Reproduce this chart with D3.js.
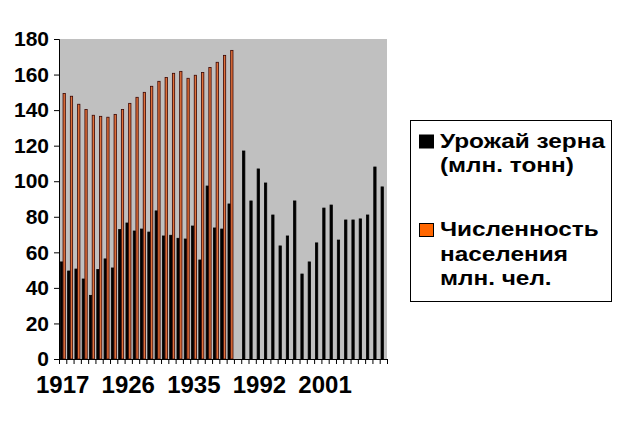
<!DOCTYPE html>
<html>
<head>
<meta charset="utf-8">
<script src="https://cdn.jsdelivr.net/npm/d3@7"></script>
<style>
  body { margin: 0; background: #fff; }
  svg text { font-family: "Liberation Sans", Arial, sans-serif; font-weight: bold; }
</style>
</head>
<body>
<svg id="chart" width="636" height="423"></svg>
<script>
// categories: 1917-1940, an empty slot, then 1990-2009
const earlyYears = d3.range(1917, 1941).map(String);
const lateYears = d3.range(1990, 2010).map(String);
const years = earlyYears.concat(["1989"], lateYears);

// grain harvest, mln t
const grainEarly = [54.6, 49.5, 50.6, 45, 35.8, 50.3, 56.3, 51.2, 72.8, 76.5, 72, 73.1,
                    71.4, 83.3, 69.2, 69.6, 67.9, 67.5, 74.8, 55.7, 97.3, 73.7, 73.1, 87.2];
const grainLate = [117, 88.9, 106.9, 99, 81, 63.6, 69.2, 88.9, 47.8, 54.6,
                   65.3, 84.9, 86.6, 66.9, 78.2, 78.2, 78.8, 81, 108, 96.8];
// population, mln
const population = [149.4, 147.8, 143.3, 140.4, 137.1, 136.5, 136, 137.6, 140.4, 143.8, 147.2, 150,
                    153.4, 156.2, 158.4, 160.7, 161.8, 157.9, 159.6, 161.2, 164, 166.9, 170.8, 173.6];

const yTicks = d3.range(0, 181, 20);
const xLabels = ["1917", "1926", "1935", "1992", "2001"];

const legendLines = [["Урожай зерна", "(млн. тонн)"], ["Численность", "населения", "млн. чел."]];

const rows = [];
earlyYears.forEach((yr, i) => {
    rows.push({year: yr, key: "grain", value: grainEarly[i]});
    rows.push({year: yr, key: "pop", value: population[i]});
});
lateYears.forEach((yr, i) => {
    rows.push({year: yr, key: "grain", value: grainLate[i]});
});

const svg = d3.select("#chart");
const plot = {left: 59, right: 387, top: 39, bottom: 359};

const x = d3.scaleBand().domain(years).range([plot.left, plot.right]).padding(0);
const x1 = d3.scaleBand().domain(["grain", "pop"]).range([0, x.bandwidth()])
    .paddingInner(0).paddingOuter(0.35);
const y = d3.scaleLinear().domain([0, 180]).range([plot.bottom, plot.top]);

svg.append("rect")
    .attr("x", plot.left).attr("y", plot.top)
    .attr("width", plot.right - plot.left).attr("height", plot.bottom - plot.top)
    .attr("fill", "#c0c0c0");

svg.append("g").selectAll("rect")
    .data(rows)
    .join("rect")
    .attr("x", d => x(d.year) + x1(d.key) + 0.4)
    .attr("y", d => y(d.value))
    .attr("width", x1.bandwidth() - 0.4)
    .attr("height", d => y(0) - y(d.value))
    .attr("fill", d => d.key == "grain" ? "#000" : "#e0703a")
    .attr("stroke", d => d.key == "grain" ? "#000" : "#3a0500")
    .attr("stroke-width", 0.8);

// y axis
const yAxis = svg.append("g")
    .attr("transform", `translate(${plot.left},0)`)
    .call(d3.axisLeft(y).tickValues(yTicks).tickSize(5).tickPadding(5));
yAxis.selectAll("text").style("font-size", "21px").attr("fill", "#000");
yAxis.selectAll("line, path").attr("stroke", "#000");

// x axis: tick marks at category boundaries
const xb = d3.scaleLinear().domain([0, years.length]).range([plot.left, plot.right]);
const xTickAxis = svg.append("g")
    .attr("transform", `translate(0,${plot.bottom})`)
    .call(d3.axisBottom(xb).tickValues(d3.range(0, years.length + 1)).tickSize(5).tickFormat(""));
xTickAxis.selectAll("line, path").attr("stroke", "#000");

const xAxis = svg.append("g")
    .attr("transform", `translate(0,${plot.bottom})`)
    .call(d3.axisBottom(x).tickValues(xLabels).tickSize(0).tickPadding(17));
xAxis.select(".domain").remove();
xAxis.selectAll("text").style("font-size", "24px").attr("fill", "#000");

// legend
const legend = svg.append("g");
legend.append("rect")
    .attr("x", 410.5).attr("y", 120.5).attr("width", 201).attr("height", 181)
    .attr("fill", "#fff").attr("stroke", "#000");

const swatchColors = ["#000", "#ff6600"];
const legendBase = [147.5, 236];
legendLines.forEach((lines, i) => {
    legend.append("rect")
        .attr("x", 419.5).attr("y", legendBase[i] - 12.5)
        .attr("width", 14).attr("height", 13)
        .attr("fill", swatchColors[i]).attr("stroke", "#000");
    lines.forEach((t, j) => {
        legend.append("text")
            .attr("transform", `translate(440,${legendBase[i] + j * 24.5}) scale(1.16,1)`)
            .style("font-size", "21px")
            .text(t);
    });
});
</script>
</body>
</html>
